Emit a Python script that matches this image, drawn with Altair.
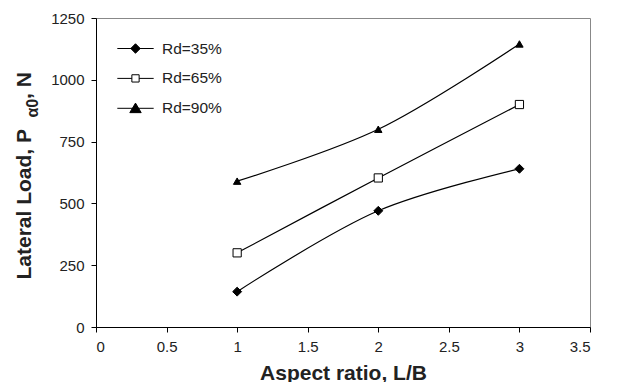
import altair as alt
import pandas as pd

x_vals = [1, 2, 3]
rd35 = [143, 470, 640]
rd65 = [300, 603, 900]
rd90 = [590, 800, 1145]
series_names = ["Rd=35%", "Rd=65%", "Rd=90%"]

x_ticks = [0, 0.5, 1, 1.5, 2, 2.5, 3, 3.5]
y_ticks = [0, 250, 500, 750, 1000, 1250]

x_title = "Aspect ratio, L/B"
y_title_main = "Lateral Load, P"
y_title_sub = "α0"
y_title_end = ", N"

rows = []
for name, vals in zip(series_names, [rd35, rd65, rd90]):
    for xv, yv in zip(x_vals, vals):
        rows.append({"x": xv, "y": yv, "series": name})
df = pd.DataFrame(rows)

FONT = "Liberation Sans"
TXT = "#222"

xenc = alt.X("x:Q", scale=alt.Scale(domain=[0, 3.5], nice=False),
             axis=alt.Axis(values=x_ticks, format="~g", title=x_title,
                           titlePadding=8))
yenc = alt.Y("y:Q", scale=alt.Scale(domain=[0, 1250], nice=False),
             axis=alt.Axis(values=y_ticks, format="d", title=None))

lines = alt.Chart(df).mark_line(color="black", strokeWidth=1.2,
                                interpolate="catmull-rom").encode(
    x=xenc, y=yenc, detail="series:N")

points = alt.Chart(df).mark_point(filled=False, strokeWidth=1, stroke="black", opacity=1).encode(
    x="x:Q", y="y:Q",
    shape=alt.Shape("series:N", scale=alt.Scale(domain=series_names,
                                                range=["diamond", "square", "triangle-up"]),
                    legend=None),
    fill=alt.Fill("series:N", scale=alt.Scale(domain=series_names,
                                              range=["black", "white", "black"]),
                  legend=None),
    size=alt.Size("series:N", scale=alt.Scale(domain=series_names, range=[80, 55, 110]),
                  legend=None),
)

leg_paths = [
    "M-2.1,0L2.1,0M0,-0.55L0.55,0L0,0.55L-0.55,0Z",
    "M-2.1,0L-0.42,0M0.42,0L2.1,0M-0.42,-0.42L0.42,-0.42L0.42,0.42L-0.42,0.42Z",
    "M-2.1,0L2.1,0M0,-0.6L0.66,0.5L-0.66,0.5Z",
]

legend_layer = alt.Chart(df).transform_filter("datum.x < 0").mark_point(
    filled=False, opacity=1, strokeWidth=1).encode(
    x="x:Q", y="y:Q",
    shape=alt.Shape("series:N", scale=alt.Scale(domain=series_names, range=leg_paths),
                    legend=alt.Legend(title=None, orient="none", legendX=30, legendY=21,
                                      symbolSize=300, symbolStrokeColor="black",
                                      symbolStrokeWidth=1, symbolOpacity=1, labelOffset=17,
                                      rowPadding=11.9, padding=0,
                                      labelFont=FONT, labelFontSize=15.5,
                                      labelColor=TXT)),
    fill=alt.Fill("series:N", scale=alt.Scale(domain=series_names,
                                              range=["black", "white", "black"])),
    stroke=alt.Stroke("series:N", scale=alt.Scale(domain=series_names,
                                                  range=["black", "black", "black"])),
)


def ytext(txt, xpx, ypx, size):
    return alt.Chart(pd.DataFrame({"t": [txt]})).mark_text(
        angle=270, align="left", baseline="alphabetic", font=FONT,
        fontWeight="bold", fontSize=size, color=TXT,
    ).encode(text="t:N", x=alt.value(xpx), y=alt.value(ypx))


yt1 = ytext(y_title_main, -65, 261.5, 21)
yt2 = ytext(y_title_sub, -58, 99.5, 16)
yt3 = ytext(y_title_end, -65, 81, 21)

chart = alt.layer(lines, points, legend_layer, yt1, yt2, yt3).resolve_scale(
    shape="independent", fill="independent", stroke="independent"
).properties(
    width=494, height=309,
    autosize=alt.AutoSizeParams(type="none"),
    padding={"left": 88, "top": 10, "right": 15, "bottom": 55},
).configure_view(
    stroke="#888", strokeWidth=1
).configure_axis(
    grid=False, domainColor="black", tickColor="black", tickSize=5,
    labelFont=FONT, labelFontSize=15, labelColor=TXT, labelPadding=7,
    titleFont=FONT, titleFontSize=21, titleFontWeight="bold", titleColor=TXT,
)

chart.save("out.html", embed_options={"renderer": "svg", "actions": False})
